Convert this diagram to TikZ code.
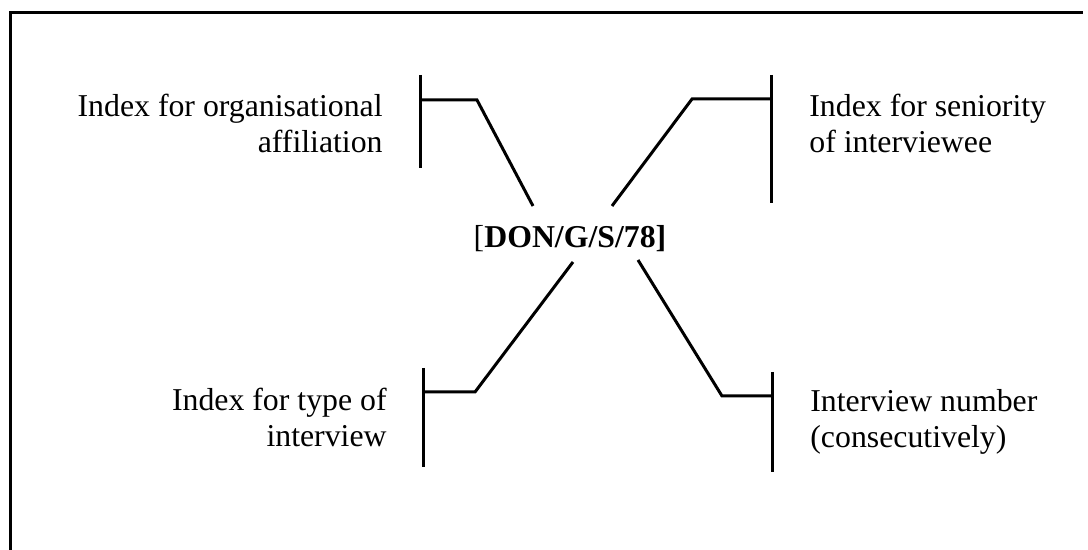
\documentclass[tikz,border=0pt]{standalone}
\usepackage{fontspec}
\setmainfont{Liberation Serif}
\begin{document}
\begin{tikzpicture}[x=0.5pt,y=-0.5pt,
  frame/.style={line width=1.5pt},
  link/.style={line width=1.5pt,line join=miter},
  lbl/.style={inner sep=0pt,font=\fontsize{15.9pt}{18pt}\selectfont}]
\useasboundingbox (0,0) rectangle (1088,550);
\draw[frame] (10,550) -- (10,13) -- (1083,13);
% central code
\node[lbl,anchor=base] (code) at (570,248) {[\textbf{DON/G/S/78]}};
% labels (base anchor = baseline of the last line)
\node[lbl,anchor=base east,align=right] (org) at (383,153) {Index for organisational\\affiliation};
\node[lbl,anchor=base west,align=left] (sen) at (809,153) {Index for seniority\\of interviewee};
\node[lbl,anchor=base east,align=right] (typ) at (387,447) {Index for type of\\interview};
\node[lbl,anchor=base west,align=left] (num) at (810,448) {Interview number\\(consecutively)};
% bracket coordinates
\coordinate (a1) at (420,75);  \coordinate (a2) at (420,168);
\coordinate (a3) at (420,100); \coordinate (a4) at (477,100); \coordinate (a5) at (533,206);
\coordinate (b1) at (771,75);  \coordinate (b2) at (771,203);
\coordinate (b3) at (771,99);  \coordinate (b4) at (692,99);  \coordinate (b5) at (612,206);
\coordinate (c1) at (423,368); \coordinate (c2) at (423,467);
\coordinate (c3) at (423,392); \coordinate (c4) at (475,392); \coordinate (c5) at (573,262);
\coordinate (d1) at (772,372); \coordinate (d2) at (772,472);
\coordinate (d3) at (772,396); \coordinate (d4) at (722,396); \coordinate (d5) at (638,260);
\draw[link] (a1) -- (a2);
\draw[link] (a3) -- (a4) -- (a5);
\draw[link] (b1) -- (b2);
\draw[link] (b3) -- (b4) -- (b5);
\draw[link] (c1) -- (c2);
\draw[link] (c3) -- (c4) -- (c5);
\draw[link] (d1) -- (d2);
\draw[link] (d3) -- (d4) -- (d5);
\end{tikzpicture}
\end{document}
